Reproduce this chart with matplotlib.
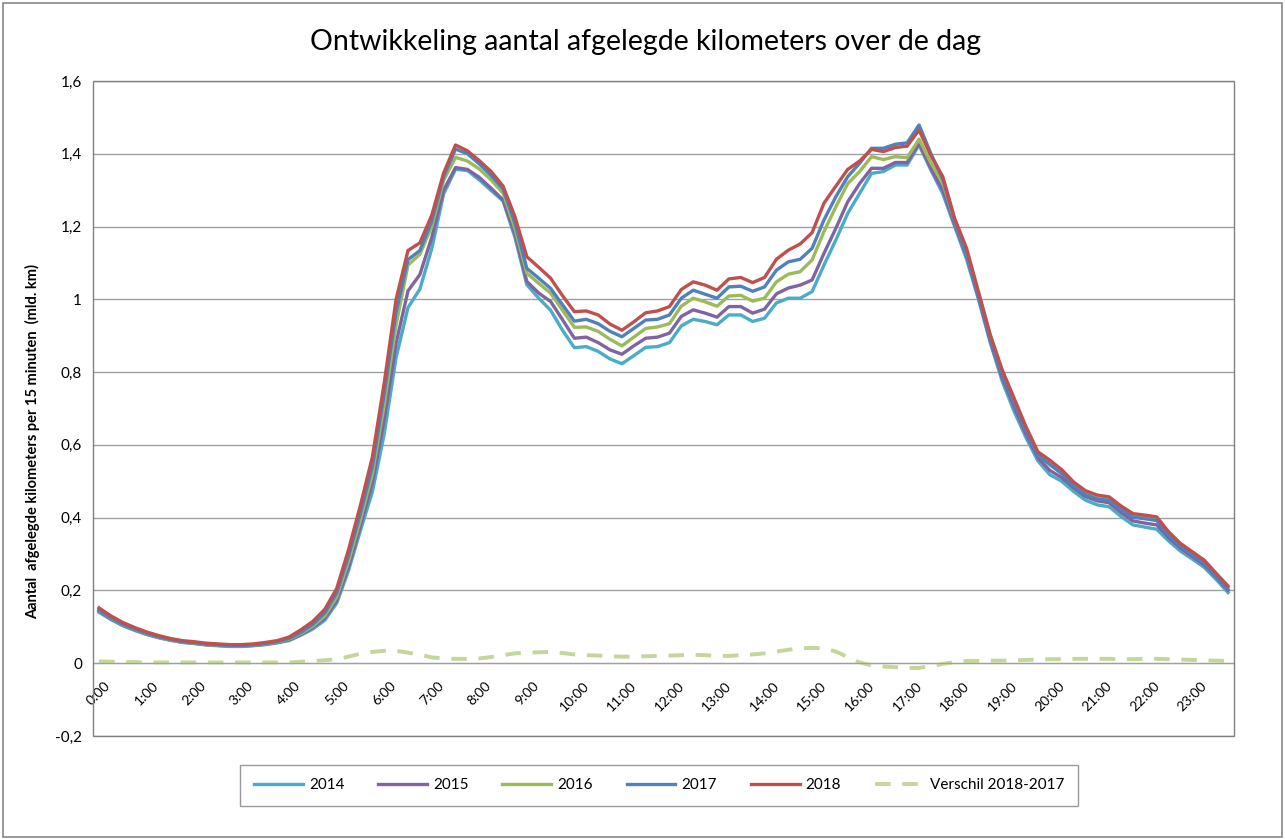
import numpy as np
import matplotlib.pyplot as plt
from matplotlib.patches import Rectangle

plt.rcParams['font.family'] = ['Lato', 'DejaVu Sans']

# kwartieren van de dag
tijden = [f"{h}:{m:02d}" for h in range(24) for m in (0, 15, 30, 45)]

km_2014 = [0.140, 0.120, 0.103, 0.090, 0.079, 0.070, 0.063, 0.057, 0.054, 0.050, 0.048, 0.046,
           0.046, 0.048, 0.051, 0.056, 0.062, 0.077, 0.094, 0.118, 0.165, 0.255, 0.365, 0.470,
           0.630, 0.840, 0.977, 1.028, 1.139, 1.290, 1.357, 1.354, 1.328, 1.299, 1.270, 1.170,
           1.040, 1.003, 0.970, 0.915, 0.867, 0.870, 0.857, 0.836, 0.823, 0.845, 0.868, 0.870,
           0.881, 0.927, 0.945, 0.939, 0.930, 0.957, 0.957, 0.939, 0.948, 0.990, 1.003, 1.003,
           1.021, 1.094, 1.163, 1.236, 1.291, 1.346, 1.351, 1.369, 1.369, 1.424, 1.355, 1.290,
           1.200, 1.110, 1.000, 0.880, 0.775, 0.692, 0.620, 0.556, 0.518, 0.500, 0.472, 0.448,
           0.435, 0.430, 0.403, 0.380, 0.374, 0.368, 0.336, 0.308, 0.286, 0.263, 0.230, 0.194]

km_2015 = [0.143, 0.122, 0.105, 0.092, 0.080, 0.071, 0.064, 0.058, 0.055, 0.051, 0.049, 0.047,
           0.047, 0.049, 0.052, 0.057, 0.064, 0.079, 0.098, 0.124, 0.172, 0.265, 0.378, 0.495,
           0.670, 0.880, 1.023, 1.068, 1.170, 1.300, 1.362, 1.357, 1.335, 1.305, 1.273, 1.180,
           1.049, 1.017, 0.994, 0.944, 0.893, 0.896, 0.881, 0.861, 0.849, 0.872, 0.893, 0.896,
           0.907, 0.953, 0.971, 0.962, 0.951, 0.980, 0.980, 0.962, 0.973, 1.015, 1.031, 1.039,
           1.053, 1.126, 1.195, 1.268, 1.318, 1.360, 1.360, 1.376, 1.376, 1.429, 1.360, 1.300,
           1.205, 1.120, 1.005, 0.885, 0.785, 0.705, 0.630, 0.565, 0.530, 0.510, 0.482, 0.458,
           0.446, 0.441, 0.414, 0.391, 0.385, 0.380, 0.345, 0.316, 0.293, 0.270, 0.237, 0.200]

km_2016 = [0.145, 0.124, 0.106, 0.093, 0.081, 0.071, 0.064, 0.058, 0.055, 0.051, 0.049, 0.047,
           0.047, 0.049, 0.053, 0.058, 0.066, 0.082, 0.102, 0.130, 0.182, 0.280, 0.395, 0.520,
           0.710, 0.930, 1.094, 1.124, 1.200, 1.327, 1.390, 1.380, 1.358, 1.328, 1.292, 1.195,
           1.072, 1.044, 1.017, 0.970, 0.923, 0.924, 0.912, 0.890, 0.872, 0.896, 0.920, 0.924,
           0.933, 0.981, 1.003, 0.993, 0.981, 1.009, 1.011, 0.995, 1.003, 1.048, 1.069, 1.076,
           1.108, 1.186, 1.254, 1.318, 1.351, 1.392, 1.384, 1.392, 1.389, 1.440, 1.375, 1.320,
           1.215, 1.130, 1.015, 0.897, 0.800, 0.720, 0.642, 0.574, 0.550, 0.524, 0.490, 0.467,
           0.455, 0.450, 0.425, 0.405, 0.400, 0.396, 0.355, 0.323, 0.300, 0.277, 0.242, 0.207]

km_2017 = [0.146, 0.125, 0.107, 0.094, 0.082, 0.072, 0.065, 0.059, 0.056, 0.052, 0.050, 0.048,
           0.048, 0.050, 0.054, 0.059, 0.068, 0.085, 0.107, 0.138, 0.193, 0.295, 0.412, 0.540,
           0.740, 0.965, 1.109, 1.134, 1.215, 1.337, 1.413, 1.400, 1.372, 1.340, 1.303, 1.210,
           1.085, 1.058, 1.030, 0.985, 0.940, 0.945, 0.933, 0.912, 0.897, 0.920, 0.943, 0.945,
           0.957, 1.003, 1.025, 1.014, 1.003, 1.034, 1.036, 1.022, 1.034, 1.080, 1.103, 1.110,
           1.140, 1.218, 1.282, 1.337, 1.374, 1.415, 1.415, 1.426, 1.430, 1.479, 1.400, 1.330,
           1.215, 1.130, 1.012, 0.893, 0.797, 0.718, 0.640, 0.572, 0.546, 0.521, 0.487, 0.463,
           0.451, 0.447, 0.422, 0.401, 0.397, 0.392, 0.352, 0.321, 0.298, 0.275, 0.240, 0.202]

km_2018 = [0.152, 0.130, 0.112, 0.098, 0.086, 0.076, 0.068, 0.062, 0.059, 0.055, 0.053, 0.051,
           0.051, 0.053, 0.057, 0.062, 0.072, 0.092, 0.115, 0.148, 0.205, 0.312, 0.434, 0.566,
           0.770, 1.000, 1.134, 1.155, 1.231, 1.347, 1.424, 1.408, 1.381, 1.351, 1.311, 1.227,
           1.117, 1.088, 1.058, 1.010, 0.966, 0.968, 0.957, 0.932, 0.915, 0.938, 0.963, 0.968,
           0.980, 1.027, 1.048, 1.039, 1.025, 1.056, 1.060, 1.046, 1.060, 1.110, 1.135, 1.152,
           1.183, 1.264, 1.311, 1.357, 1.380, 1.412, 1.406, 1.417, 1.421, 1.465, 1.395, 1.337,
           1.222, 1.140, 1.021, 0.902, 0.806, 0.728, 0.650, 0.581, 0.558, 0.532, 0.498, 0.474,
           0.462, 0.457, 0.432, 0.411, 0.407, 0.402, 0.361, 0.329, 0.306, 0.283, 0.247, 0.212]

verschil = [0.005, 0.004, 0.003, 0.003, 0.002, 0.002, 0.002, 0.002, 0.002, 0.002, 0.002, 0.002,
            0.002, 0.002, 0.002, 0.002, 0.002, 0.004, 0.006, 0.008, 0.011, 0.018, 0.026, 0.031,
            0.034, 0.034, 0.029, 0.023, 0.016, 0.013, 0.012, 0.012, 0.013, 0.017, 0.022, 0.027,
            0.029, 0.030, 0.031, 0.028, 0.024, 0.022, 0.021, 0.019, 0.018, 0.018, 0.019, 0.020,
            0.021, 0.022, 0.023, 0.022, 0.020, 0.020, 0.022, 0.024, 0.027, 0.032, 0.037, 0.041,
            0.042, 0.041, 0.032, 0.017, 0.002, -0.006, -0.009, -0.011, -0.013, -0.013, -0.008, -0.002,
            0.003, 0.006, 0.006, 0.007, 0.007, 0.008, 0.009, 0.010, 0.011, 0.011, 0.012, 0.012,
            0.012, 0.012, 0.011, 0.011, 0.012, 0.012, 0.011, 0.010, 0.009, 0.008, 0.007, 0.006]

series = [("2014", km_2014, "#4BACC6"),
          ("2015", km_2015, "#8064A2"),
          ("2016", km_2016, "#9BBB59"),
          ("2017", km_2017, "#4F81BD"),
          ("2018", km_2018, "#C0504D")]

y_ticks = [-0.2, 0, 0.2, 0.4, 0.6, 0.8, 1.0, 1.2, 1.4, 1.6]
y_labels = ["-0,2", "0", "0,2", "0,4", "0,6", "0,8", "1", "1,2", "1,4", "1,6"]

fig = plt.figure(figsize=(12.85, 8.39), dpi=100)
ax = fig.add_axes([0.0724, 0.1228, 0.8879, 0.7807])

x = np.arange(len(tijden))
for naam, waarden, kleur in series:
    ax.plot(x, waarden, color=kleur, lw=2.4, label=naam, solid_joinstyle='round')
ax.plot(x, verschil, color="#C3D69B", lw=2.8, ls=(0, (4, 3)), label="Verschil 2018-2017")

ax.set_xlim(-0.5, len(tijden) - 0.5)
ax.set_ylim(-0.2, 1.6)
ax.set_yticks(y_ticks)
ax.set_yticklabels(y_labels, fontsize=11)
ax.set_xticks(x[::4])
ax.set_xticklabels(tijden[::4], fontsize=12)
ax.tick_params(axis='y', length=0, pad=8)
ax.tick_params(axis='x', length=0, pad=12, labelrotation=45)
for lbl in ax.get_xticklabels():
    lbl.set_ha('right')
    lbl.set_rotation_mode('anchor')

ax.grid(axis='y', color='#A0A0A0', lw=1)
ax.set_axisbelow(True)
for s in ['top', 'right', 'left']:
    ax.spines[s].set_visible(False)
ax.spines['bottom'].set_position(('data', 0))
ax.spines['bottom'].set_color('#A0A0A0')
ax.add_patch(Rectangle((0, 0), 1, 1, transform=ax.transAxes, fill=False,
                       edgecolor='#808080', lw=1, clip_on=False, zorder=5))

ax.set_ylabel("Aantal  afgelegde kilometers per 15 minuten  (mld. km)",
              fontsize=10.5, fontweight='bold')
ax.yaxis.set_label_coords(-0.046, 0.45)
fig.text(0.502, 0.95, "Ontwikkeling aantal afgelegde kilometers over de dag",
         ha='center', va='center', fontsize=20.5)

leg = fig.legend(loc='center', bbox_to_anchor=(0.513, 0.064), ncol=6, fontsize=11,
                 frameon=True, fancybox=False, handlelength=3.2, columnspacing=2.2,
                 borderpad=0.9, handletextpad=0.4)
leg.get_frame().set_edgecolor('#808080')
leg.get_frame().set_linewidth(1)

fig.patches.append(Rectangle((0.002, 0.002), 0.996, 0.995, transform=fig.transFigure,
                             fill=False, edgecolor='#888888', lw=1.2))

fig.savefig('out.png', dpi=100)
